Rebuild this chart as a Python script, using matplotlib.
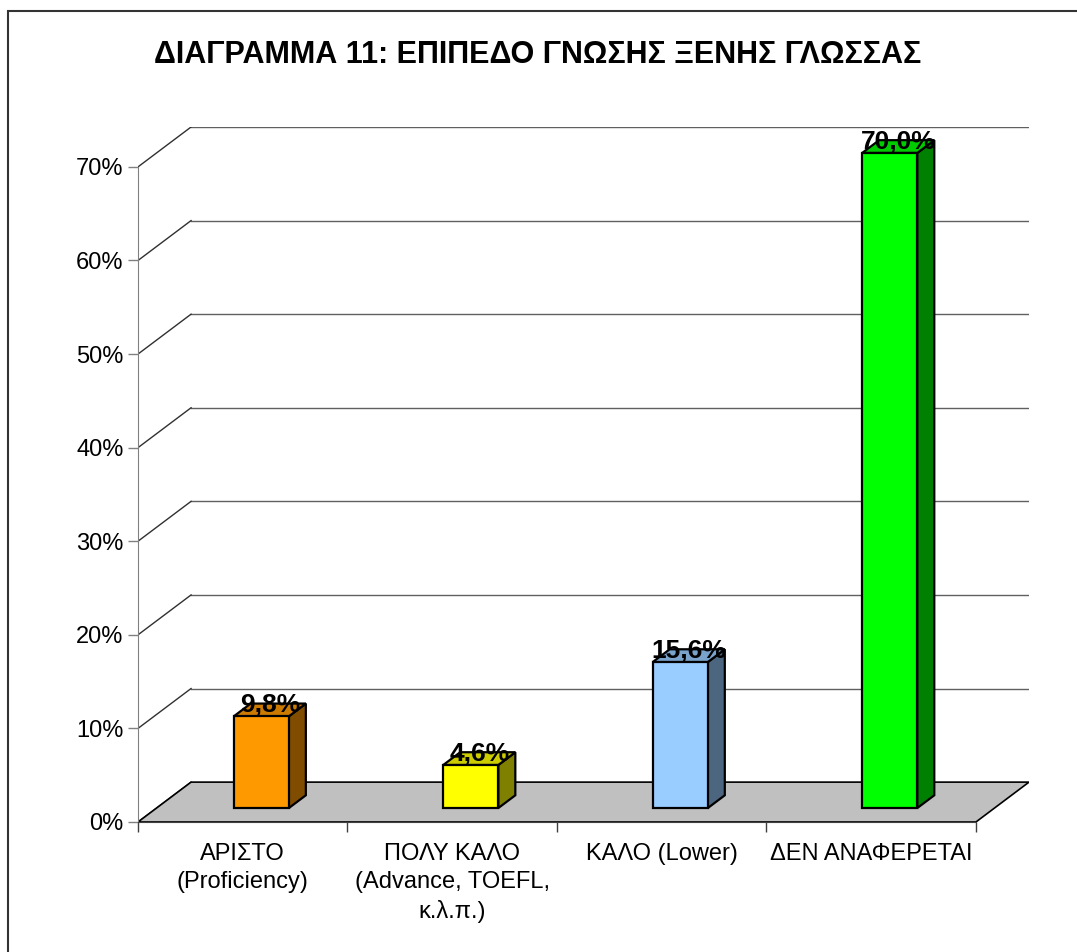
import matplotlib
matplotlib.use("Agg")
import matplotlib.pyplot as plt
from matplotlib.patches import Polygon, Rectangle
import numpy as np

plt.rcParams['font.family'] = ['Liberation Sans', 'DejaVu Sans']

title = "ΔΙΑΓΡΑΜΜΑ 11: ΕΠΙΠΕΔΟ ΓΝΩΣΗΣ ΞΕΝΗΣ ΓΛΩΣΣΑΣ"
categories = ["ΑΡΙΣΤΟ\n(Proficiency)", "ΠΟΛΥ ΚΑΛΟ\n(Advance, TOEFL,\nκ.λ.π.)",
              "ΚΑΛΟ (Lower)", "ΔΕΝ ΑΝΑΦΕΡΕΤΑΙ"]
values = [9.8, 4.6, 15.6, 70.0]
value_labels = ["9,8%", "4,6%", "15,6%", "70,0%"]
yticks = [0, 10, 20, 30, 40, 50, 60, 70]
ytick_labels = ["0%", "10%", "20%", "30%", "40%", "50%", "60%", "70%"]
front_colors = ["#FF9900", "#FFFF00", "#99CCFF", "#00FF00"]
top_colors = ["#CC7A00", "#CCCC00", "#7AA3CC", "#00CC00"]
side_colors = ["#804D00", "#808000", "#4D6680", "#008000"]

# pseudo-3D geometry (in data units)
DX = 0.2533   # depth shift in category units
DY = 4.262    # depth shift in percent units
d0, d1 = 0.35, 0.67
w = 0.263

W, H = 1077, 952
fig = plt.figure(figsize=(W / 100, H / 100), dpi=100)
fig.patch.set_facecolor("white")

# outer frame
fig.add_artist(Rectangle((8 / W, -0.1), 1.2, (H - 11) / H + 0.1, transform=fig.transFigure,
                         fill=False, edgecolor="#333333", linewidth=1.5))

left, right, top, bottom = 138, 1029, 127, 822
ax = fig.add_axes([left / W, (H - bottom) / H, (right - left) / W, (bottom - top) / H])
ax.set_xlim(-0.5, 3.5 + DX)
ax.set_ylim(0, 70 + DY)
ax.set_facecolor("none")

x = np.arange(len(categories))
xl, xr = -0.5, 3.5

# back wall gridlines and left wall diagonals
for t in yticks[1:]:
    ax.plot([xl + DX, xr + DX], [t + DY, t + DY], color="#606060", lw=1.0, zorder=1)
for t in yticks:
    ax.plot([xl, xl + DX], [t, t + DY], color="#303030", lw=1.0, zorder=1)

# floor
floor = Polygon([(xl, 0), (xr, 0), (xr + DX, DY), (xl + DX, DY)], closed=True,
                facecolor="#C0C0C0", edgecolor="black", lw=1.2, zorder=2)
ax.add_patch(floor)

# bars
ax.bar(x + d0 * DX, values, width=w, bottom=d0 * DY, color=front_colors,
       edgecolor="black", linewidth=1.6, zorder=4)
for i, v in enumerate(values):
    xa = x[i] - w / 2 + d0 * DX
    xb = x[i] + w / 2 + d0 * DX
    ddx = (d1 - d0) * DX
    ddy = (d1 - d0) * DY
    yb = d0 * DY
    yt = v + d0 * DY
    side = Polygon([(xb, yb), (xb + ddx, yb + ddy), (xb + ddx, yt + ddy), (xb, yt)],
                   closed=True, facecolor=side_colors[i], edgecolor="black", lw=1.6, zorder=3)
    topf = Polygon([(xa, yt), (xb, yt), (xb + ddx, yt + ddy), (xa + ddx, yt + ddy)],
                   closed=True, facecolor=top_colors[i], edgecolor="black", lw=1.6, zorder=3)
    ax.add_patch(side)
    ax.add_patch(topf)
    ax.text(x[i] + (d0 + d1) / 2 * DX, v + d1 * DY - 0.2, value_labels[i],
            ha="center", va="center", fontsize=19, fontweight="bold", zorder=6)

# axes
for s in ["top", "right"]:
    ax.spines[s].set_visible(False)
ax.spines["left"].set_bounds(0, 70)
ax.spines["left"].set_color("#808080")
ax.spines["bottom"].set_bounds(xl, xr)
ax.spines["bottom"].set_color("#404040")
ax.spines["bottom"].set_zorder(5)

ax.set_yticks(yticks)
ax.set_yticklabels(ytick_labels, fontsize=17)
ax.tick_params(axis="y", length=7, width=1, color="#808080", pad=3.5)

ax.set_xticks(np.arange(len(categories) + 1) - 0.5)
ax.set_xticklabels([""] * (len(categories) + 1))
ax.tick_params(axis="x", which="major", length=7, width=1, color="#404040")
ax.set_xticks(x, minor=True)
ax.set_xticklabels(categories, minor=True, fontsize=17, linespacing=1.38)
ax.tick_params(axis="x", which="minor", length=0, pad=15)

fig.text(538 / W, 1 - 55 / H, title, ha="center", va="center", fontsize=22,
         fontweight="bold")

fig.savefig("out.png", dpi=100)
